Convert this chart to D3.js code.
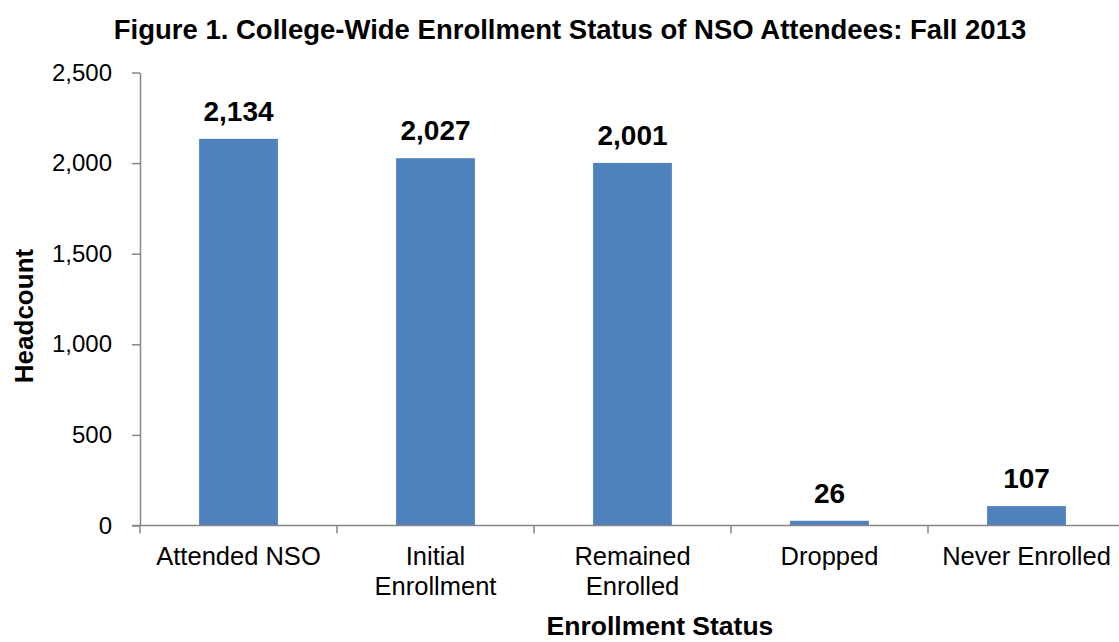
<!DOCTYPE html>
<html>
<head>
<meta charset="utf-8">
<script src="https://cdn.jsdelivr.net/npm/d3@7"></script>
<style>
  html, body { margin: 0; padding: 0; background: #fff; }
  svg { display: block; font-family: "Liberation Sans", Arial, sans-serif; }
</style>
</head>
<body>
<svg id="chart" width="1119" height="642"></svg>
<script>
const categories = [["Attended NSO"], ["Initial", "Enrollment"], ["Remained", "Enrolled"], ["Dropped"], ["Never Enrolled"]];
const values = [2134, 2027, 2001, 26, 107];
const yTicks = [0, 500, 1000, 1500, 2000, 2500];
const titleText = "Figure 1. College-Wide Enrollment Status of NSO Attendees: Fall 2013";
const xTitle = "Enrollment Status";
const yTitle = "Headcount";

const svg = d3.select("#chart");
const margin = { left: 140, right: -6, top: 72.5, bottom: 116.5 };
const W = 1119, H = 642;
const fmt = d3.format(",");

const x = d3.scaleBand()
  .domain(d3.range(categories.length))
  .range([margin.left, W - margin.right])
  .paddingInner(0.6).paddingOuter(0.3);
const y = d3.scaleLinear().domain([0, 2500]).range([H - margin.bottom, margin.top]);

const axisColor = "#868686";

// bars
svg.append("g").selectAll("rect").data(values).join("rect")
  .attr("x", (d, i) => x(i))
  .attr("width", x.bandwidth())
  .attr("y", d => y(d))
  .attr("height", d => y(0) - y(d))
  .attr("fill", "#4F81BD");

// y axis
const yAxis = svg.append("g")
  .attr("transform", `translate(${margin.left},0)`)
  .call(d3.axisLeft(y).tickValues(yTicks).tickFormat(fmt).tickSizeInner(8).tickSizeOuter(0).tickPadding(20));
yAxis.select(".domain").attr("stroke", axisColor).attr("stroke-width", 1.5);
yAxis.selectAll(".tick line").attr("stroke", axisColor).attr("stroke-width", 1.5);
yAxis.selectAll(".tick text").attr("font-size", 24).attr("fill", "#000").attr("font-family", "Liberation Sans, Arial, sans-serif");

// x axis
const xAxisG = svg.append("g").attr("transform", `translate(0,${y(0)})`);
xAxisG.append("line")
  .attr("x1", margin.left - 8).attr("x2", W)
  .attr("stroke", axisColor).attr("stroke-width", 1.5);
const catW = (W - margin.right - margin.left) / categories.length;
xAxisG.selectAll("line.tk").data(d3.range(categories.length + 1)).join("line")
  .attr("class", "tk")
  .attr("x1", i => margin.left + i * catW)
  .attr("x2", i => margin.left + i * catW)
  .attr("y1", 0).attr("y2", 8)
  .attr("stroke", axisColor).attr("stroke-width", 1.5);

// x labels
const xl = svg.append("g").selectAll("text").data(categories).join("text")
  .attr("x", (d, i) => x(i) + x.bandwidth() / 2)
  .attr("y", y(0) + 39.5)
  .attr("text-anchor", "middle")
  .attr("font-size", 25.5)
  .attr("fill", "#000");
xl.selectAll("tspan").data(d => d).join("tspan")
  .attr("x", function () { return d3.select(this.parentNode).attr("x"); })
  .attr("dy", (d, i) => i === 0 ? 0 : 30)
  .text(d => d);

// value labels
svg.append("g").selectAll("text").data(values).join("text")
  .attr("x", (d, i) => x(i) + x.bandwidth() / 2)
  .attr("y", d => y(d) - 18)
  .attr("text-anchor", "middle")
  .attr("font-size", 28)
  .attr("font-weight", "bold")
  .attr("fill", "#000")
  .text(d => fmt(d));

// title
svg.append("text")
  .attr("x", 570).attr("y", 39)
  .attr("text-anchor", "middle")
  .attr("font-size", 27.5).attr("font-weight", "bold")
  .text(titleText);

// axis titles
svg.append("text")
  .attr("x", 660).attr("y", 635)
  .attr("text-anchor", "middle")
  .attr("font-size", 26.5).attr("font-weight", "bold")
  .text(xTitle);

svg.append("text")
  .attr("transform", `translate(33,316) rotate(-90)`)
  .attr("text-anchor", "middle")
  .attr("font-size", 26).attr("font-weight", "bold")
  .text(yTitle);
</script>
</body>
</html>
